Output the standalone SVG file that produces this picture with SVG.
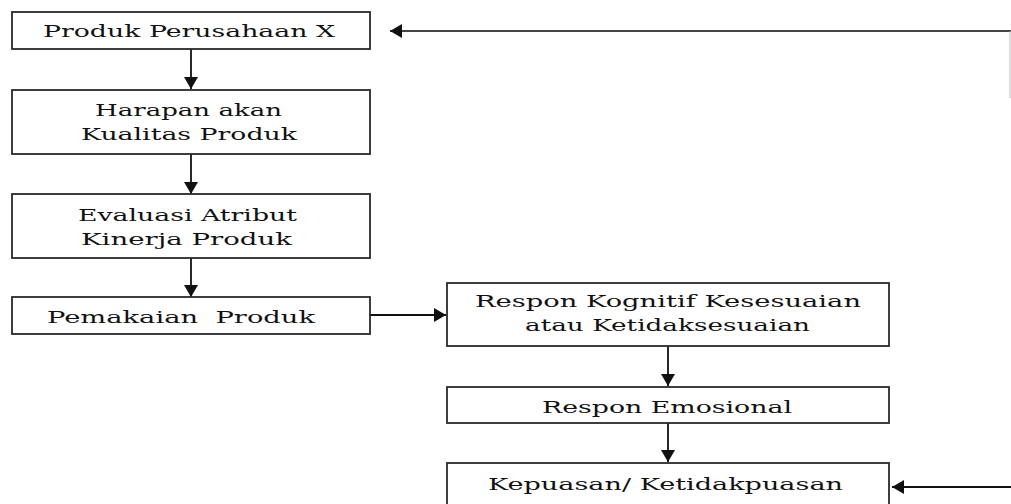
<svg xmlns="http://www.w3.org/2000/svg" width="1011" height="504" viewBox="0 0 1011 504">
<style>
.box{fill:#fff;stroke:#2a2a2a;stroke-width:1.8}
.lbl{font-family:"DejaVu Serif","Liberation Serif","Times New Roman",serif;font-size:17.5px;fill:#111}
.con{stroke:#111;stroke-width:1.8;fill:none}
</style>
<defs>
<marker id="ah" markerUnits="userSpaceOnUse" markerWidth="16" markerHeight="16" refX="12" refY="7" orient="auto">
<path d="M0,0 L12,7 L0,14 Z" fill="#111"/>
</marker>
</defs>
<rect width="1011" height="504" fill="#fff"/>
<g id="connectors">
<line class="con" x1="191" y1="49" x2="191" y2="89" marker-end="url(#ah)"/>
<line class="con" x1="191" y1="154" x2="191" y2="194" marker-end="url(#ah)"/>
<line class="con" x1="191" y1="258" x2="191" y2="297" marker-end="url(#ah)"/>
<line class="con" x1="370" y1="315" x2="446" y2="315" marker-end="url(#ah)"/>
<line class="con" x1="668" y1="346" x2="668" y2="386" marker-end="url(#ah)"/>
<line class="con" x1="668" y1="423" x2="668" y2="462" marker-end="url(#ah)"/>
<line class="con" x1="1011" y1="31" x2="390" y2="31" marker-end="url(#ah)" style="stroke:#444"/>
<line x1="1010" y1="31" x2="1010" y2="98" stroke="#bbb" stroke-width="1"/>
<line class="con" x1="1011" y1="487" x2="892" y2="487" marker-end="url(#ah)"/>
</g>
<g id="n1"><rect class="box" x="12" y="12" width="358" height="37"/>
<text class="lbl" x="43" y="37" textLength="292" lengthAdjust="spacingAndGlyphs">Produk Perusahaan X</text></g>
<g id="n2"><rect class="box" x="12" y="90" width="358" height="64"/>
<text class="lbl" x="95" y="116" textLength="187" lengthAdjust="spacingAndGlyphs">Harapan akan</text>
<text class="lbl" x="81" y="140" textLength="216" lengthAdjust="spacingAndGlyphs">Kualitas Produk</text></g>
<g id="n3"><rect class="box" x="12" y="194" width="358" height="64"/>
<text class="lbl" x="78" y="221" textLength="219" lengthAdjust="spacingAndGlyphs">Evaluasi Atribut</text>
<text class="lbl" x="81" y="245" textLength="211" lengthAdjust="spacingAndGlyphs">Kinerja Produk</text></g>
<g id="n4"><rect class="box" x="12" y="297" width="358" height="37"/>
<text class="lbl" x="47" y="323" textLength="268" lengthAdjust="spacingAndGlyphs" xml:space="preserve">Pemakaian  Produk</text></g>
<g id="n5"><rect class="box" x="447" y="283" width="442" height="63"/>
<text class="lbl" x="475" y="307" textLength="386" lengthAdjust="spacingAndGlyphs">Respon Kognitif Kesesuaian</text>
<text class="lbl" x="525" y="331" textLength="285" lengthAdjust="spacingAndGlyphs">atau Ketidaksesuaian</text></g>
<g id="n6"><rect class="box" x="447" y="387" width="442" height="36"/>
<text class="lbl" x="542" y="413" textLength="250" lengthAdjust="spacingAndGlyphs">Respon Emosional</text></g>
<g id="n7"><rect class="box" x="447" y="463" width="442" height="60"/>
<text class="lbl" x="488" y="490" textLength="355" lengthAdjust="spacingAndGlyphs">Kepuasan/ Ketidakpuasan</text></g>
</svg>
